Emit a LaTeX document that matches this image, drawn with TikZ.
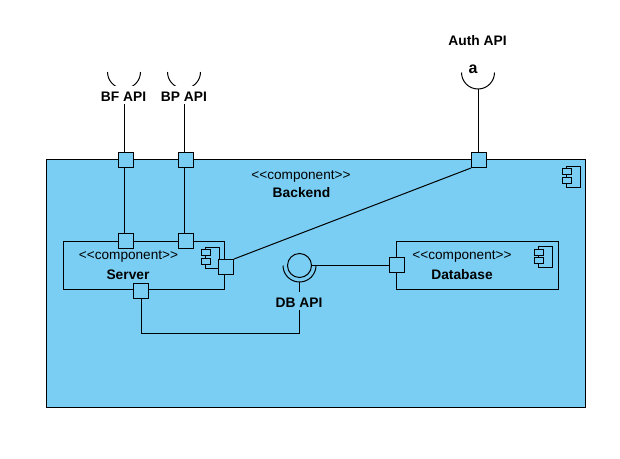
\documentclass[tikz,border=0pt]{standalone}
\usepackage{fontspec}
\setmainfont[Ligatures=NoCommon]{Liberation Sans}
\usepackage{xcolor}
\usepackage{tikz}
\usetikzlibrary{calc,positioning}
\definecolor{compblue}{HTML}{7ACEF4}
\newcommand{\stereotext}{{<}{<}component{>}{>}}

\begin{document}
\begin{tikzpicture}[x=1pt,y=-1pt,
  line width=1pt,
  comp/.style={draw,fill=compblue,inner sep=0pt},
  port/.style={draw,fill=compblue,inner sep=0pt,minimum size=15pt},
  ball/.style={draw,circle,inner sep=0pt,minimum size=24pt},
  stereo/.style={font=\fontsize{13.6}{15}\selectfont,inner sep=0pt},
  title/.style={font=\fontsize{13.8}{15}\selectfont\bfseries,inner sep=0pt},
  api/.style={font=\fontsize{13.8}{15}\selectfont\bfseries,inner xsep=1.5pt,
              inner ysep=1.5pt,text height=14pt,text depth=1pt},
  tab/.style={draw,fill=compblue,inner sep=0pt,minimum width=9pt,minimum height=6pt},
  compicon/.pic={
    \draw[fill=compblue] (-7,-10.5) rectangle (7,10.5);
    \node[tab] at (-6.5,-5) {};
    \node[tab] at (-6.5,3.5) {};}]
  \useasboundingbox (0,0) rectangle (620,458);
  \coordinate (bfsock) at (124,72);
  \coordinate (bpsock) at (184,72);
  \coordinate (authsock) at (478,72.5);
  \coordinate (dbsock) at (299.5,265.5);
  \coordinate (dbturn) at (299.5,333);
  % components
  \node[comp,minimum width=539pt,minimum height=248pt] (backend) at (316,283) {};
  \pic at (573.5,176.5) {compicon};
  \node[stereo] (backst) at (301,176.5) {\stereotext};
  \node[title] (backname) at (301.5,192.5) {Backend};
  \node[comp,minimum width=161pt,minimum height=48pt] (server) at (143.7,265) {};
  \pic at (212.5,257.5) {compicon};
  \node[stereo] (servst) at (128.5,257) {\stereotext};
  \node[title] (servname) at (128,274.5) {Server};
  \node[comp,minimum width=162pt,minimum height=48pt] (database) at (477,265.5) {};
  \pic at (545,257) {compicon};
  \node[stereo] (datast) at (462,257) {\stereotext};
  \node[title] (dataname) at (462,274.5) {Database};
  % ports
  \node[port] (bfout) at (126,160) {};
  \node[port] (bpout) at (186,160) {};
  \node[port] (authout) at (479,160) {};
  \node[port] (bfin) at (126,240.5) {};
  \node[port] (bpin) at (185.5,240.5) {};
  \node[port] (servright) at (226,267) {};
  \node[port] (servdown) at (141,291) {};
  \node[port] (dataport) at (397,265) {};
  % provided and required interfaces
  \node[ball] (dbball) at (dbsock) {};
  \draw (bfsock) ++(16.5,0) arc (0:180:16.5);
  \draw (bpsock) ++(16.5,0) arc (0:180:16.5);
  \draw (authsock) ++(16.5,0) arc (0:180:16.5);
  \draw (dbsock) ++(16.5,0) arc (0:180:16.5);
  % connectors
  \draw (bfout.north -| bfsock) -- ($(bfsock)+(0,16.5)$);
  \draw (bpout.north -| bpsock) -- ($(bpsock)+(0,16.5)$);
  \draw (authout.north -| authsock) -- ($(authsock)+(0,16.5)$);
  \draw (bfout.south -| bfsock) -- (bfin.north -| bfsock);
  \draw (bpout.south -| bpsock) -- (bpin.north -| bpsock);
  \draw (servright.north east) -- (authout.south west);
  \draw (dbball.east) -- (dbball.east -| dataport.west);
  \draw (servdown.south) |- (dbturn) -- ($(dbsock)+(0,16.5)$);
  % labels
  \node[api,fill=white] (bflabel) at (123.5,95) {BF API};
  \node[api,fill=white] (bplabel) at (184,95) {BP API};
  \node[api,fill=compblue] (dblabel) at (299,301) {DB API};
  \node[api] (authlabel) at (477.5,38.5) {Auth API};
  \node[title,font=\fontsize{16}{18}\selectfont\bfseries] (authmark) at (473,69) {a};
\end{tikzpicture}
\end{document}
